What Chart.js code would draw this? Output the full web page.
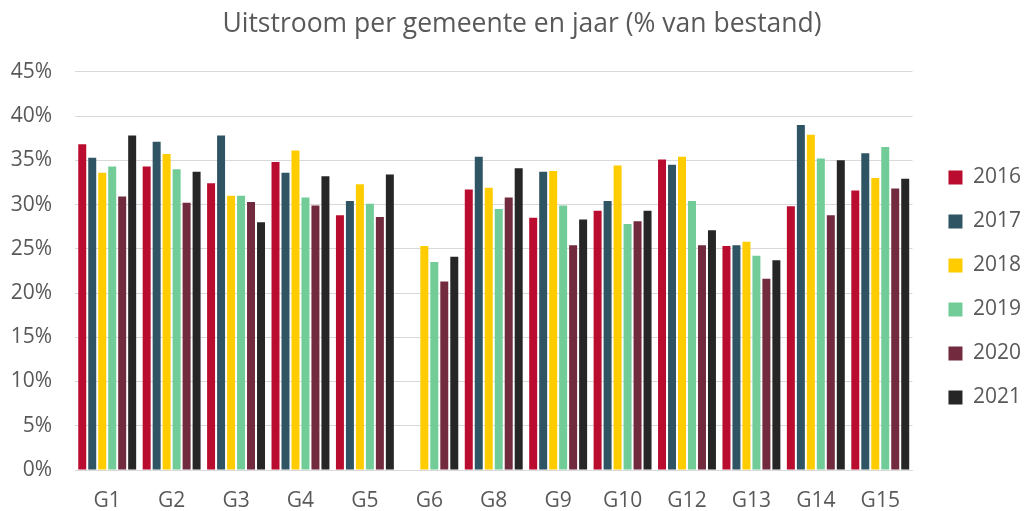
<!DOCTYPE html>
<html>
<head>
<meta charset="utf-8">
<script src="https://cdn.jsdelivr.net/npm/chart.js@4/dist/chart.umd.min.js"></script>
<style>
  html, body { margin: 0; padding: 0; background: #fff; }
  #wrap { width: 1025px; height: 511px; }
</style>
</head>
<body>
<div id="wrap"><canvas id="uitstroomChart" width="1025" height="511"></canvas></div>
<script>
// gemeenten (G7 and G11 are not in the report)
var gemeenten = ["G1", "G2", "G3", "G4", "G5", "G6", "G8", "G9", "G10", "G12", "G13", "G14", "G15"];

// uitstroom as % of bestand, one array per year
var y2016 = [36.8, 34.3, 32.4, 34.8, 28.8, null, 31.7, 28.5, 29.3, 35.1, 25.3, 29.8, 31.6];
var y2017 = [35.3, 37.1, 37.8, 33.6, 30.4, null, 35.4, 33.7, 30.4, 34.5, 25.4, 39.0, 35.8];
var y2018 = [33.6, 35.7, 31.0, 36.1, 32.3, 25.3, 31.9, 33.8, 34.4, 35.4, 25.8, 37.9, 33.0];
var y2019 = [34.3, 34.0, 31.0, 30.8, 30.1, 23.5, 29.5, 29.9, 27.8, 30.4, 24.2, 35.2, 36.5];
var y2020 = [30.9, 30.2, 30.3, 29.9, 28.6, 21.3, 30.8, 25.4, 28.1, 25.4, 21.6, 28.8, 31.8];
var y2021 = [37.8, 33.7, 28.0, 33.2, 33.4, 24.1, 34.1, 28.3, 29.3, 27.1, 23.7, 35.0, 32.9];

var jaren = ["2016", "2017", "2018", "2019", "2020", "2021"];
var kleuren = ["#BA0C2F", "#2F5564", "#FFCC00", "#72CC98", "#722A3E", "#262626"];
var reeksen = [y2016, y2017, y2018, y2019, y2020, y2021];

var yTicks = [0, 5, 10, 15, 20, 25, 30, 35, 40, 45];

var textColor = "#595959";
var fontFamily = "'Open Sans', 'Noto Sans', sans-serif";

var datasets = [];
for (let i = 0; i < jaren.length; i++) {
  datasets.push({
    label: jaren[i],
    data: reeksen[i],
    backgroundColor: kleuren[i],
    borderWidth: 0,
    barPercentage: 0.8,
    categoryPercentage: 0.93
  });
}

// nudge legend and title a bit after the layout is done
var boxShift = {
  id: "boxShift",
  afterLayout: function(chart) {
    var lg = chart.legend;
    if (lg) {
      lg.left += 13;
      lg.right += 13;
      lg.top += 30;
      lg.bottom += 30;
    }
    var tt = chart.titleBlock;
    if (tt) {
      tt.left += 8;
      tt.right += 8;
    }
  }
};

new Chart(document.getElementById("uitstroomChart"), {
  type: "bar",
  data: {
    labels: gemeenten,
    datasets: datasets
  },
  plugins: [boxShift],
  options: {
    responsive: false,
    animation: false,
    layout: {
      padding: { left: 10, right: 7, top: 4, bottom: 0 }
    },
    plugins: {
      title: {
        display: true,
        text: "Uitstroom per gemeente en jaar (% van bestand)",
        color: textColor,
        font: { family: fontFamily, size: 26.5, weight: "normal" },
        padding: { top: 5, bottom: 31 }
      },
      legend: {
        position: "right",
        labels: {
          color: textColor,
          font: { family: fontFamily, size: 21 },
          boxWidth: 14,
          boxHeight: 14,
          padding: 23
        }
      },
      tooltip: { enabled: false }
    },
    scales: {
      x: {
        grid: { display: false },
        border: { display: true, color: "#d9d9d9" },
        ticks: {
          color: textColor,
          font: { family: fontFamily, size: 21 },
          padding: 10
        },
        afterFit: function(axis) { axis.height = 41; }
      },
      y: {
        min: 0,
        max: 45,
        afterBuildTicks: function(axis) {
          axis.ticks = yTicks.map(v => ({ value: v }));
        },
        afterFit: function(axis) { axis.width = 65; },
        grid: { color: "#d9d9d9", lineWidth: 1, drawTicks: false },
        border: { display: false },
        ticks: {
          color: textColor,
          font: { family: fontFamily, size: 21 },
          padding: 23,
          callback: function(v) { return v + "%"; }
        }
      }
    }
  }
});
</script>
</body>
</html>
